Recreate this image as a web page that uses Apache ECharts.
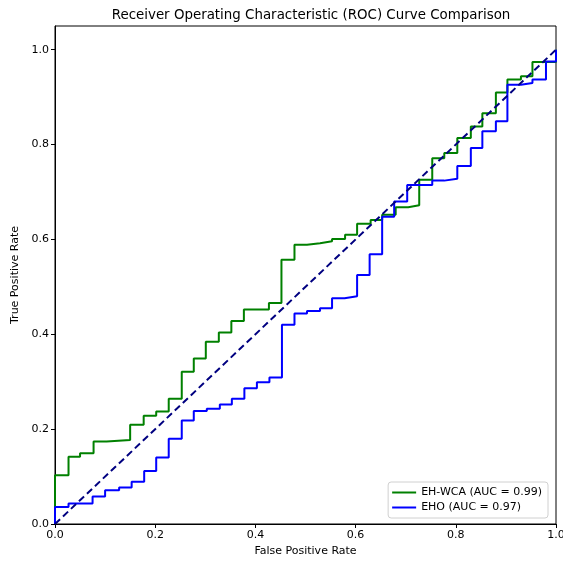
<!DOCTYPE html>
<html>
<head>
<meta charset="utf-8">
<script src="https://cdn.jsdelivr.net/npm/echarts@6/dist/echarts.min.js"></script>
<style>html,body{margin:0;padding:0;background:#fff;}#c{width:563px;height:562px;}</style>
</head>
<body>
<div id="c"></div>
<script>
const tickValues = [0, 0.2, 0.4, 0.6, 0.8, 1.0];
const seriesNames = ['EH-WCA (AUC = 0.99)', 'EHO (AUC = 0.97)'];
const wcaFpr = [0,0,0.027,0.05,0.077,0.103,0.15,0.177,0.202,0.227,0.253,0.277,0.301,0.327,0.352,0.377,0.427,0.452,0.478,0.503,0.529,0.553,0.579,0.603,0.63,0.653,0.68,0.705,0.727,0.753,0.777,0.803,0.83,0.853,0.88,0.903,0.93,0.953,1,1];
const wcaTpr = [0,0.103,0.142,0.149,0.174,0.177,0.209,0.228,0.237,0.264,0.321,0.349,0.384,0.404,0.428,0.452,0.466,0.557,0.589,0.592,0.596,0.601,0.610,0.633,0.641,0.652,0.668,0.672,0.726,0.771,0.782,0.814,0.838,0.866,0.91,0.937,0.944,0.974,0.977,1];
const ehoFpr = [0,0,0.027,0.075,0.1,0.128,0.153,0.178,0.202,0.227,0.253,0.277,0.303,0.329,0.353,0.378,0.403,0.428,0.453,0.478,0.503,0.529,0.553,0.578,0.603,0.628,0.653,0.677,0.703,0.753,0.777,0.803,0.83,0.853,0.88,0.903,0.93,0.953,0.98,1,1];
const ehoTpr = [0,0.036,0.043,0.058,0.071,0.077,0.089,0.112,0.14,0.18,0.218,0.238,0.243,0.252,0.264,0.286,0.299,0.309,0.42,0.444,0.449,0.455,0.476,0.48,0.525,0.569,0.648,0.68,0.715,0.724,0.728,0.755,0.793,0.828,0.849,0.926,0.93,0.937,0.975,0.975,1];
const chanceX = [0, 1];
const chanceY = [0, 1];

const pairs = (xs, ys) => xs.map((x, i) => [x, ys[i]]);
const font = 'DejaVu Sans';
const chart = echarts.init(document.getElementById('c'), null, {renderer: 'canvas'});
const axisCommon = {
  min: 0,
  axisLine: {show: true, onZero: false, lineStyle: {color: '#000', width: 1}},
  axisTick: {show: true, inside: false, length: 4, lineStyle: {color: '#000'}, customValues: tickValues},
  axisLabel: {color: '#000', fontSize: 11, fontFamily: font, margin: 6,
    customValues: tickValues, formatter: v => v.toFixed(1)},
  splitLine: {show: false},
  nameLocation: 'middle',
  nameTextStyle: {color: '#000', fontSize: 11, fontFamily: font}
};
chart.setOption({
  animation: false,
  backgroundColor: '#fff',
  title: {
    text: 'Receiver Operating Characteristic (ROC) Curve Comparison',
    left: 306, top: 4, textAlign: 'center',
    textStyle: {color: '#000', fontSize: 13.4, fontWeight: 'normal', fontFamily: font}
  },
  grid: {left: 55, right: 7, top: 26, bottom: 38, show: true, borderColor: '#000', borderWidth: 1,
    backgroundColor: '#fff', outerBoundsMode: 'none', containLabel: false},
  xAxis: Object.assign({}, axisCommon, {type: 'value', max: 1, name: 'False Positive Rate', nameGap: 22}),
  yAxis: Object.assign({}, axisCommon, {type: 'value', max: 1.05, name: 'True Positive Rate', nameGap: 31}),
  legend: {
    data: seriesNames,
    orient: 'vertical',
    right: 15, bottom: 44,
    icon: 'rect', itemWidth: 24, itemHeight: 2, itemGap: 4,
    padding: [5, 6, 5, 4],
    borderColor: '#d0d0d0', borderWidth: 1, borderRadius: 3,
    backgroundColor: 'rgba(255,255,255,0.85)',
    textStyle: {color: '#000', fontSize: 11, fontFamily: font}
  },
  series: [
    {name: seriesNames[0], type: 'line', step: 'end', data: pairs(wcaFpr, wcaTpr), showSymbol: false, symbol: 'none',
      lineStyle: {color: '#008000', width: 2}, itemStyle: {color: '#008000'}, z: 2},
    {name: seriesNames[1], type: 'line', step: 'end', data: pairs(ehoFpr, ehoTpr), showSymbol: false, symbol: 'none',
      lineStyle: {color: '#0000ff', width: 2}, itemStyle: {color: '#0000ff'}, z: 3},
    {name: 'chance', type: 'line', data: pairs(chanceX, chanceY), showSymbol: false, symbol: 'none',
      lineStyle: {color: '#000080', width: 2, type: [7, 4]}, itemStyle: {color: '#000080'}, z: 4}
  ]
});
</script>
</body>
</html>
